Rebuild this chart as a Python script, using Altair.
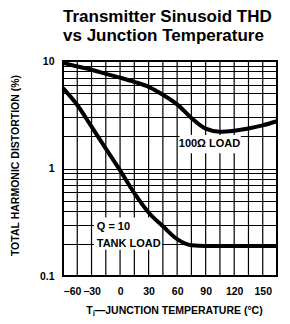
import altair as alt
import pandas as pd

# Data
temps = [-60, -45, -30, -15, 0, 15, 30, 45, 60, 75, 90, 105, 120, 135, 150, 165]
thd_100ohm = [9.6, 8.9, 8.3, 7.6, 7.0, 6.4, 5.75, 4.85, 3.95, 2.95, 2.35, 2.2, 2.25, 2.36, 2.52, 2.75]
thd_tank = [5.6, 3.9, 2.45, 1.53, 0.96, 0.59, 0.39, 0.29, 0.22, 0.193, 0.19, 0.19, 0.19, 0.19, 0.19, 0.19]

x_ticks = [-60, -45, -30, -15, 0, 15, 30, 45, 60, 75, 90, 105, 120, 135, 150, 165]
y_ticks = [0.1, 0.2, 0.3, 0.4, 0.5, 0.6, 0.7, 0.8, 0.9, 1, 2, 3, 4, 5, 6, 7, 8, 9, 10]

label_text = ["100Ω LOAD", "Q = 10", "TANK LOAD"]
label_t = [94, -24.5, -24.5]
label_v = [1.68, 0.285, 0.199]
label_align = ["center", "left", "left"]

box_t1 = [62.5, -27.5]
box_t2 = [127, 44]
box_v1 = [1.39, 0.175]
box_v2 = [2.05, 0.35]

FONT = "Liberation Sans, Arial, sans-serif"

rows = []
for t, v in zip(temps, thd_100ohm):
    rows.append({"T": t, "THD": v, "series": "100"})
for t, v in zip(temps, thd_tank):
    rows.append({"T": t, "THD": v, "series": "tank"})
df = pd.DataFrame(rows)

labels = pd.DataFrame({"T": label_t, "THD": label_v, "text": label_text, "align": label_align})
boxes = pd.DataFrame({"T": box_t1, "t2": box_t2, "THD": box_v1, "v2": box_v2})
vgrid = pd.DataFrame({"T": x_ticks})

xscale = alt.Scale(domain=[-60, 165], nice=False, zero=False)
yscale = alt.Scale(type="log", domain=[0.1, 10], nice=False)

xaxis = alt.Axis(
    values=x_ticks,
    labelExpr="datum.value % 30 == 0 && datum.value <= 150 ? (datum.value < 0 ? '\u2212' + abs(datum.value) : '' + datum.value) : ''",
    labelOverlap=False,
    title="T\u2C7C\u2014JUNCTION TEMPERATURE (\u00b0C)",
    titleX=111, titleY=34, titleBaseline="middle", titleAlign="center",
    ticks=False, labelPadding=10, domain=False, grid=False,
)
yaxis = alt.Axis(
    values=y_ticks,
    labelExpr="datum.value == 0.1 || datum.value == 1 || datum.value == 10 ? '' + datum.value : ''",
    labelOverlap=False,
    title="TOTAL HARMONIC DISTORTION (%)",
    titleX=-48, titleY=104, titleBaseline="middle", titleAlign="center", titleAngle=-90,
    ticks=False, labelPadding=9, domain=False,
    grid=True, gridColor="black", gridOpacity=1, gridWidth=1.2,
)

X = alt.X("T:Q", scale=xscale, axis=xaxis)
Y = alt.Y("THD:Q", scale=yscale, axis=yaxis)

grid_v = alt.Chart(vgrid).mark_tick(
    color="black", orient="vertical", thickness=1.2, size=215, opacity=1
).encode(x=X, y=alt.value(107.5))

lines = alt.Chart(df).mark_line(color="black", strokeWidth=4, interpolate="monotone").encode(
    x=X, y=Y, detail="series:N",
)

bg = alt.Chart(boxes).mark_rect(fill="white", opacity=1).encode(
    x=X, x2=alt.X2("t2"), y=Y, y2=alt.Y2("v2"),
)

txt_center = alt.Chart(labels).transform_filter("datum.align == 'center'").mark_text(
    font=FONT, fontSize=11, fontWeight="bold", color="black", align="center", baseline="middle"
).encode(x=X, y=Y, text="text:N")

txt_left = alt.Chart(labels).transform_filter("datum.align == 'left'").mark_text(
    font=FONT, fontSize=11, fontWeight="bold", color="black", align="left", baseline="middle"
).encode(x=X, y=Y, text="text:N")

chart = alt.layer(grid_v, bg, txt_center, txt_left, lines).properties(
    width=214, height=215,
    title=alt.TitleParams(
        ["Transmitter Sinusoid THD", "vs Junction Temperature"],
        anchor="start", frame="group", font=FONT, fontSize=17,
        fontWeight="bold", color="black", lineHeight=19, offset=10,
    ),
    autosize=alt.AutoSizeParams(type="none"),
    padding={"left": 55, "top": 53, "right": 5, "bottom": 40},
).configure_view(stroke="black", strokeWidth=2).configure_axis(
    labelFont=FONT, labelFontSize=10.5, labelFontWeight="bold", labelColor="black",
    titleFont=FONT, titleFontSize=10.5, titleFontWeight="bold", titleColor="black",
)

chart.save("out.html", embed_options={"renderer": "svg", "actions": False})
